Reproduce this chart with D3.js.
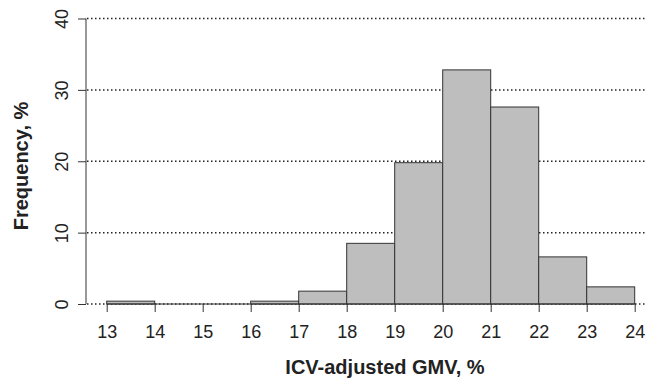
<!DOCTYPE html>
<html><head><meta charset="utf-8">
<script src="https://cdn.jsdelivr.net/npm/d3@7"></script>
<style>body{margin:0;background:#fff}text{font-family:"Liberation Sans",Arial,sans-serif}</style>
</head><body><svg id="c" width="648" height="378"></svg>
<script>
const binStarts = [13,14,15,16,17,18,19,20,21,22,23];
const freqs = [0.4,0,0,0.4,1.8,8.5,19.8,32.8,27.6,6.6,2.4];
const xTicks = [13,14,15,16,17,18,19,20,21,22,23,24];
const yTicks = [0,10,20,30,40];

const svg = d3.select("#c");
const x = d3.scaleLinear().domain([13,24]).range([106.7,634.7]);
const y = d3.scaleLinear().domain([0,40]).range([304,18.5]);
const ink = "#222";

// grid
svg.append("g").selectAll("line").data(yTicks).join("line")
  .attr("x1",87).attr("x2",646).attr("y1",d=>y(d)).attr("y2",d=>y(d))
  .attr("stroke",ink).attr("stroke-width",1.5).attr("stroke-dasharray","1.5,2.5");

// bars
svg.append("g").selectAll("rect").data(binStarts.map((b,i)=>({b,v:freqs[i]})).filter(d=>d.v>0)).join("rect")
  .attr("x",d=>x(d.b)).attr("width",d=>x(d.b+1)-x(d.b))
  .attr("y",d=>y(d.v)).attr("height",d=>y(0)-y(d.v))
  .attr("fill","#bebebe").attr("stroke","#333").attr("stroke-width",1);

// x axis
const xa = svg.append("g").attr("transform",`translate(0,${y(0)})`)
  .call(d3.axisBottom(x).tickValues(xTicks).tickFormat(d3.format("d")).tickSize(8).tickPadding(13));
xa.select(".domain").attr("stroke","#333").attr("d",`M${x(13)},0H${x(24)}`);
xa.selectAll(".tick line").attr("stroke","#333");
xa.selectAll("text").attr("font-size",18).attr("fill",ink).attr("font-family","Liberation Sans, Arial, sans-serif");

// y axis
const ya = svg.append("g").attr("transform","translate(86,0)")
  .call(d3.axisLeft(y).tickValues(yTicks).tickSize(8).tickPadding(4));
ya.select(".domain").attr("stroke","#333").attr("d",`M0,${y(0)}V${y(40)}`);
ya.selectAll(".tick line").attr("stroke","#333");
ya.selectAll(".tick text").attr("font-size",18).attr("fill",ink)
  .attr("font-family","Liberation Sans, Arial, sans-serif")
  .attr("text-anchor","middle").attr("dy",0).attr("x",0)
  .attr("transform","translate(-24,0) rotate(-90)").attr("dominant-baseline","central");

// labels
svg.append("text").attr("x",385).attr("y",374).attr("text-anchor","middle")
  .attr("font-size",20).attr("font-weight","bold").attr("fill",ink).text("ICV-adjusted GMV, %");
svg.append("text").attr("transform","translate(28,166) rotate(-90)").attr("text-anchor","middle")
  .attr("font-size",20).attr("font-weight","bold").attr("fill",ink).text("Frequency, %");
</script></body></html>
